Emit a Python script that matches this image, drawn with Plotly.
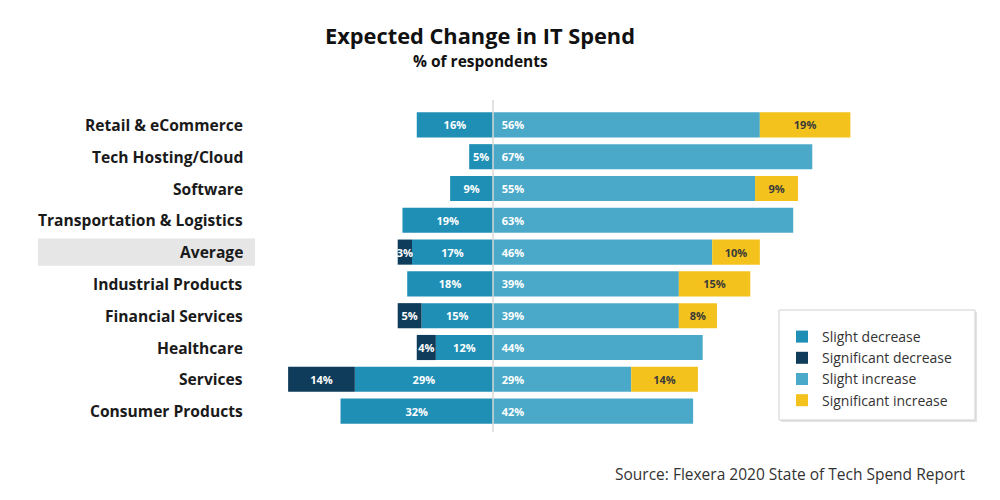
import plotly.graph_objects as go

categories = ["Retail & eCommerce", "Tech Hosting/Cloud", "Software", "Transportation & Logistics",
              "Average", "Industrial Products", "Financial Services", "Healthcare", "Services",
              "Consumer Products"]
slight_decrease = [16, 5, 9, 19, 17, 18, 15, 12, 29, 32]
significant_decrease = [0, 0, 0, 0, 3, 0, 5, 4, 14, 0]
slight_increase = [56, 67, 55, 63, 46, 39, 39, 44, 29, 42]
significant_increase = [19, 0, 9, 0, 10, 15, 8, 0, 14, 0]

FONT = "Open Sans"
C_SD = "#1f8fb6"
C_SIGD = "#0f3c5a"
C_SI = "#4aa9c8"
C_SIGI = "#f4c21c"

def labels(vals, prefix=""):
    return [f"{prefix}{v}%" if v else "" for v in vals]

fig = go.Figure()
common = dict(orientation="h", y=categories, textposition="inside", textangle=0,
              hoverinfo="skip", cliponaxis=False)
fig.add_trace(go.Bar(x=[-v for v in slight_decrease], name="Slight decrease",
                     marker=dict(color=C_SD, line=dict(width=0)),
                     text=labels(slight_decrease), insidetextanchor="middle",
                     textfont=dict(color="white", size=11, family=FONT, weight="bold"), **common))
fig.add_trace(go.Bar(x=[-v for v in significant_decrease], name="Significant decrease",
                     marker=dict(color=C_SIGD, line=dict(width=0)),
                     text=labels(significant_decrease), insidetextanchor="middle",
                     textfont=dict(color="white", size=11, family=FONT, weight="bold"), **common))
fig.add_trace(go.Bar(x=slight_increase, name="Slight increase",
                     marker=dict(color=C_SI, line=dict(width=0)),
                     text=labels(slight_increase, "  "), insidetextanchor="start",
                     textfont=dict(color="white", size=11, family=FONT, weight="bold"), **common))
fig.add_trace(go.Bar(x=significant_increase, name="Significant increase",
                     marker=dict(color=C_SIGI, line=dict(width=0)),
                     text=labels(significant_increase), insidetextanchor="middle",
                     textfont=dict(color="#3a3a3a", size=11, family=FONT, weight="bold"), **common))

OFF = 8  # page body margin
L, R, T, B = 262, 18, 101, 81
W = 1000 - L - R
H = 500 - T - B

def px(xp):
    return (xp - OFF - L) / W

def py(yp):
    return (500 - B - (yp - OFF)) / H

annotations = []
for c in categories:
    annotations.append(dict(x=px(245), xref="paper", y=c, yref="y", text=c, showarrow=False,
                            xanchor="right", yanchor="middle",
                            font=dict(family=FONT, size=15.6, color="#1a1a1a", weight="bold")))
annotations.append(dict(x=px(480), xref="paper", y=py(36), yref="paper", text="Expected Change in IT Spend",
                        showarrow=False, xanchor="center", yanchor="middle",
                        font=dict(family=FONT, size=21.8, color="#111", weight="bold")))
annotations.append(dict(x=px(480), xref="paper", y=py(60.5), yref="paper", text="% of respondents",
                        showarrow=False, xanchor="center", yanchor="middle",
                        font=dict(family=FONT, size=15.5, color="#111", weight="bold")))
annotations.append(dict(x=px(968), xref="paper", y=py(474), yref="paper",
                        text="Source: Flexera 2020 State of Tech Spend Report",
                        showarrow=False, xanchor="right", yanchor="middle",
                        font=dict(family=FONT, size=15.5, color="#333")))

shapes = [
    dict(type="rect", xref="paper", yref="y", x0=px(38), x1=px(255), y0=4 - 0.43, y1=4 + 0.43,
         fillcolor="#e6e6e6", line=dict(width=0), layer="below"),
    dict(type="line", xref="x", yref="paper", x0=0, x1=0, y0=py(432), y1=py(100),
         line=dict(color="#d8d8d8", width=1.5), layer="above"),
    # legend frame with soft shadow
    dict(type="rect", xref="paper", yref="paper", x0=px(781), x1=px(977), y0=py(422), y1=py(312),
         fillcolor="#e4e4e4", line=dict(width=0), layer="below"),
    dict(type="rect", xref="paper", yref="paper", x0=px(779), x1=px(975), y0=py(420), y1=py(310),
         fillcolor="white", line=dict(color="#d0d0d0", width=1), layer="below"),
]

fig.update_layout(
    width=1000, height=500,
    margin=dict(l=L, r=R, t=T, b=B, pad=0),
    paper_bgcolor="white", plot_bgcolor="rgba(0,0,0,0)",
    barmode="relative", bargap=0.21,
    uniformtext=dict(minsize=11, mode="show"),
    xaxis=dict(range=[-46.8, 104.3], visible=False, fixedrange=True),
    yaxis=dict(categoryorder="array", categoryarray=categories, autorange="reversed",
               showticklabels=False, showgrid=False, zeroline=False, ticks=""),
    legend=dict(x=px(782), y=py(321), xanchor="left", yanchor="top",
                borderwidth=0, bgcolor="rgba(0,0,0,0)",
                font=dict(family=FONT, size=14, color="#333"), traceorder="normal",
                tracegroupgap=0),
    annotations=annotations, shapes=shapes,
    showlegend=True,
)

fig.write_html("out.html")
